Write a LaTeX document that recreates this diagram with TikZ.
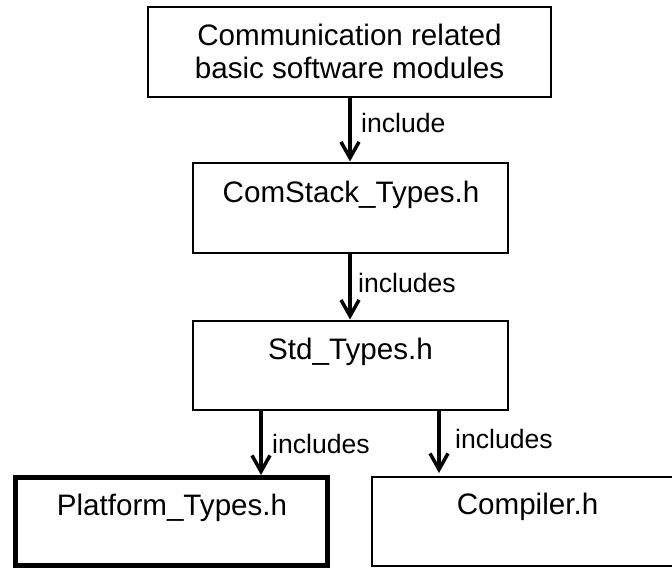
\documentclass[tikz,border=0pt]{standalone}
\usepackage{fontspec}
\setmainfont{Liberation Sans}
\usetikzlibrary{arrows.meta}
\tikzset{
  box/.style={draw, rectangle, line width=1.5pt, inner sep=0pt, outer sep=0pt},
  thickbox/.style={box, line width=5pt},
  boxtext/.style={anchor=base, inner sep=0pt, font=\fontsize{29.6}{33}\selectfont},
  lbl/.style={anchor=base west, inner sep=0pt, font=\fontsize{26.6}{30}\selectfont},
  arr/.style={line width=3.5pt, -{Straight Barb[length=16pt,width=18pt]}}
}
\begin{document}
\begin{tikzpicture}[x=1pt,y=-1pt]
\useasboundingbox (0,0) rectangle (672,568);
\clip (0,0) rectangle (672,568);
\fill[white] (0,0) rectangle (672,568);
% boxes
\node[box, minimum width=403pt, minimum height=90pt] (b1) at (349.5,52) {};
\node[box, minimum width=315pt, minimum height=90pt] (b2) at (350.5,208) {};
\node[box, minimum width=315pt, minimum height=89pt] (b3) at (350.5,365.5) {};
\node[thickbox, minimum width=312pt, minimum height=88pt] (plat) at (171.5,521.5) {};
\node[box, minimum width=311pt, minimum height=89pt] (comp) at (527.5,521.5) {};
% texts
\node[boxtext] (t1a) at (349.5,45) {Communication related};
\node[boxtext] (t1b) at (349.5,78) {basic software modules};
\node[boxtext] (t2) at (351,202) {ComStack\_Types.h};
\node[boxtext] (t3) at (350.5,359) {Std\_Types.h};
\node[boxtext] (t4) at (172,515) {Platform\_Types.h};
\node[boxtext] (t5) at (527.5,514) {Compiler.h};
% arrows
\coordinate (cx) at (350,0);
\coordinate (lx) at (261,0);
\coordinate (rx) at (439,0);
\draw[arr, shorten >=1.5pt] (b1.south -| cx) -- (b2.north -| cx);
\draw[arr, shorten >=1.5pt] (b2.south -| cx) -- (b3.north -| cx);
\draw[arr, shorten >=2.5pt] (b3.south -| lx) -- (plat.north -| lx);
\draw[arr, shorten >=4pt] (b3.south -| rx) -- (comp.north -| rx);
% labels
\node[lbl] (l1) at (361,132) {include};
\node[lbl] (l2) at (358,292) {includes};
\node[lbl] (l3) at (272,453) {includes};
\node[lbl] (l4) at (455,448) {includes};
\end{tikzpicture}
\end{document}
